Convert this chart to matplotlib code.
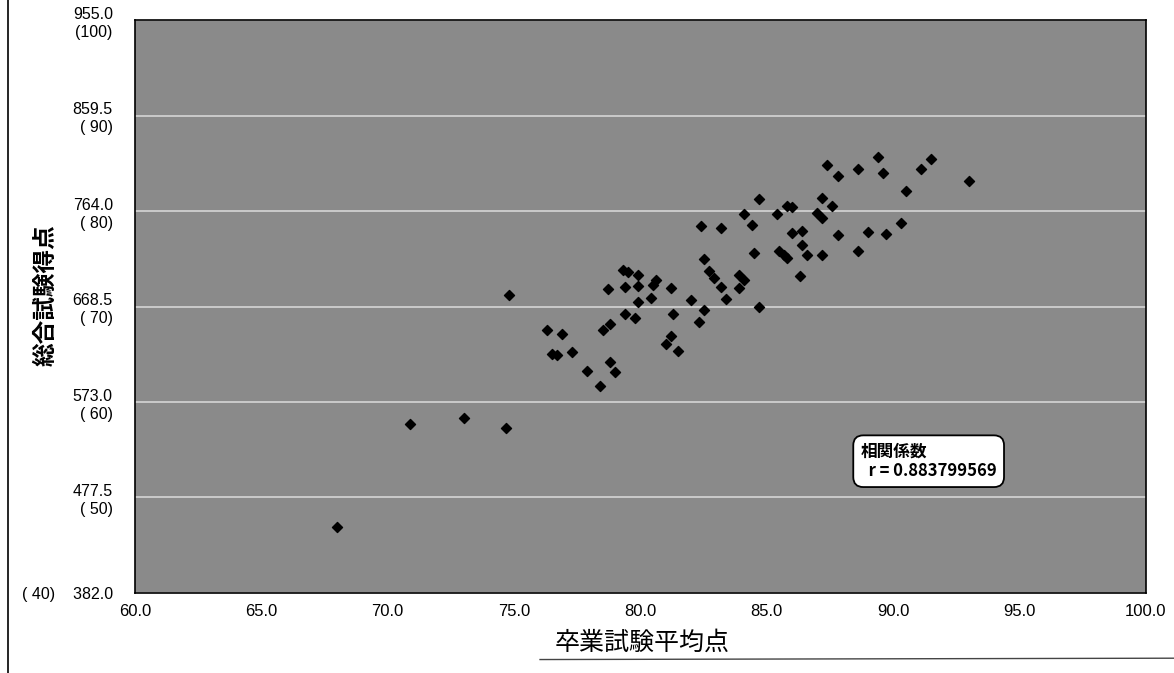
import numpy as np
import matplotlib.pyplot as plt
from matplotlib.lines import Line2D

plt.rcParams['font.family'] = ['Liberation Sans', 'Noto Sans CJK JP', 'DejaVu Sans']

# 卒業試験平均点 (x) と 総合試験得点 (y)
sotsugyo = [68.0, 70.9, 73.0, 74.7, 74.8, 76.3, 76.9, 76.5, 76.7, 77.3,
            77.9, 78.4, 79.0, 78.8, 78.5, 78.8, 79.4, 79.8, 81.0, 81.2,
            81.5, 81.3, 82.3, 82.5, 82.0, 80.4, 79.9, 78.7, 79.4, 79.9,
            80.5, 80.6, 81.2, 79.3, 79.5, 79.9, 82.5, 82.7, 82.9, 83.2,
            83.4, 82.4, 83.2, 83.9, 84.1, 83.9, 84.7, 84.4, 84.1, 84.7,
            85.4, 85.8, 86.0, 86.0, 86.4, 86.4, 86.3, 84.5, 85.5, 85.7,
            85.8, 86.6, 87.2, 87.0, 87.2, 87.2, 87.6, 87.8, 88.6, 89.0,
            89.7, 90.3, 87.4, 87.8, 88.6, 89.4, 89.6, 90.5, 91.1, 91.5,
            93.0]
sogo = [448, 551, 557, 547, 680, 645, 641, 621, 620, 623,
        604, 589, 603, 613, 645, 651, 661, 657, 631, 639,
        624, 661, 653, 665, 675, 677, 673, 686, 688, 689,
        690, 695, 687, 705, 703, 700, 716, 704, 697, 688,
        676, 749, 747, 700, 695, 687, 668, 750, 761, 776,
        761, 769, 768, 742, 744, 730, 699, 722, 724, 720,
        717, 720, 720, 762, 757, 777, 769, 740, 724, 743,
        741, 752, 810, 799, 806, 818, 802, 784, 806, 816,
        794]

x_ticks = [60, 65, 70, 75, 80, 85, 90, 95, 100]
y_ticks = [382.0, 477.5, 573.0, 668.5, 764.0, 859.5, 955.0]
y_pct = [40, 50, 60, 70, 80, 90, 100]
r_value = 0.883799569

fig = plt.figure(figsize=(11.74, 6.73), dpi=100)
ax = fig.add_axes([0.115, 0.119, 0.861, 0.851])
ax.set_facecolor('#8a8a8a')

ax.scatter(sotsugyo, sogo, marker='D', s=26, color='black', zorder=3)

ax.set_xlim(60, 100)
ax.set_ylim(382, 955)

ax.set_xticks(x_ticks)
ax.set_xticklabels([f'{v:.1f}' for v in x_ticks],
                   family=['Liberation Sans Narrow', 'Liberation Sans'], fontsize=12)

ylabels = []
for v, p in zip(y_ticks, y_pct):
    if p == 40:
        ylabels.append(f'( {p})    {v:.1f}')
    elif p == 100:
        ylabels.append(f'{v:.1f}\n({p})')
    else:
        ylabels.append(f'{v:.1f}\n( {p})')
ax.set_yticks(y_ticks)
ax.set_yticklabels(ylabels, fontsize=11.5, linespacing=1.25)
ax.tick_params(axis='both', length=0)
ax.tick_params(axis='y', pad=16)
ax.tick_params(axis='x', pad=8)

ax.grid(axis='y', color='#dcdcdc', linewidth=1.1, zorder=1)
ax.set_axisbelow(True)
for s in ax.spines.values():
    s.set_color('black')
    s.set_linewidth(1.2)

ax.set_xlabel('卒業試験平均点', family=['Noto Sans CJK JP'], fontsize=18)
ax.xaxis.set_label_coords(0.502, -0.064)
ax.set_ylabel('総合試験得点', family=['Noto Sans CJK JP'], fontsize=17,
              fontweight='bold')
ax.yaxis.set_label_coords(-0.077, 0.52)

# 相関係数の注記
ax.text(0.718, 0.262, f'相関係数\n  r = {r_value:.9f}', transform=ax.transAxes,
        family=['Noto Sans CJK JP'], fontsize=12, fontweight='bold', va='top', ha='left',
        linespacing=1.05,
        bbox=dict(boxstyle='round,pad=0.45,rounding_size=0.6', facecolor='white',
                  edgecolor='black', linewidth=1.3), zorder=4)

# 用紙の縁
fig.add_artist(Line2D([0.007, 0.007], [0.0, 1.0], color='black', linewidth=1.2))
fig.add_artist(Line2D([0.46, 1.0], [0.02, 0.022], color='#444444', linewidth=1.0))

fig.savefig('out.png', dpi=100)
